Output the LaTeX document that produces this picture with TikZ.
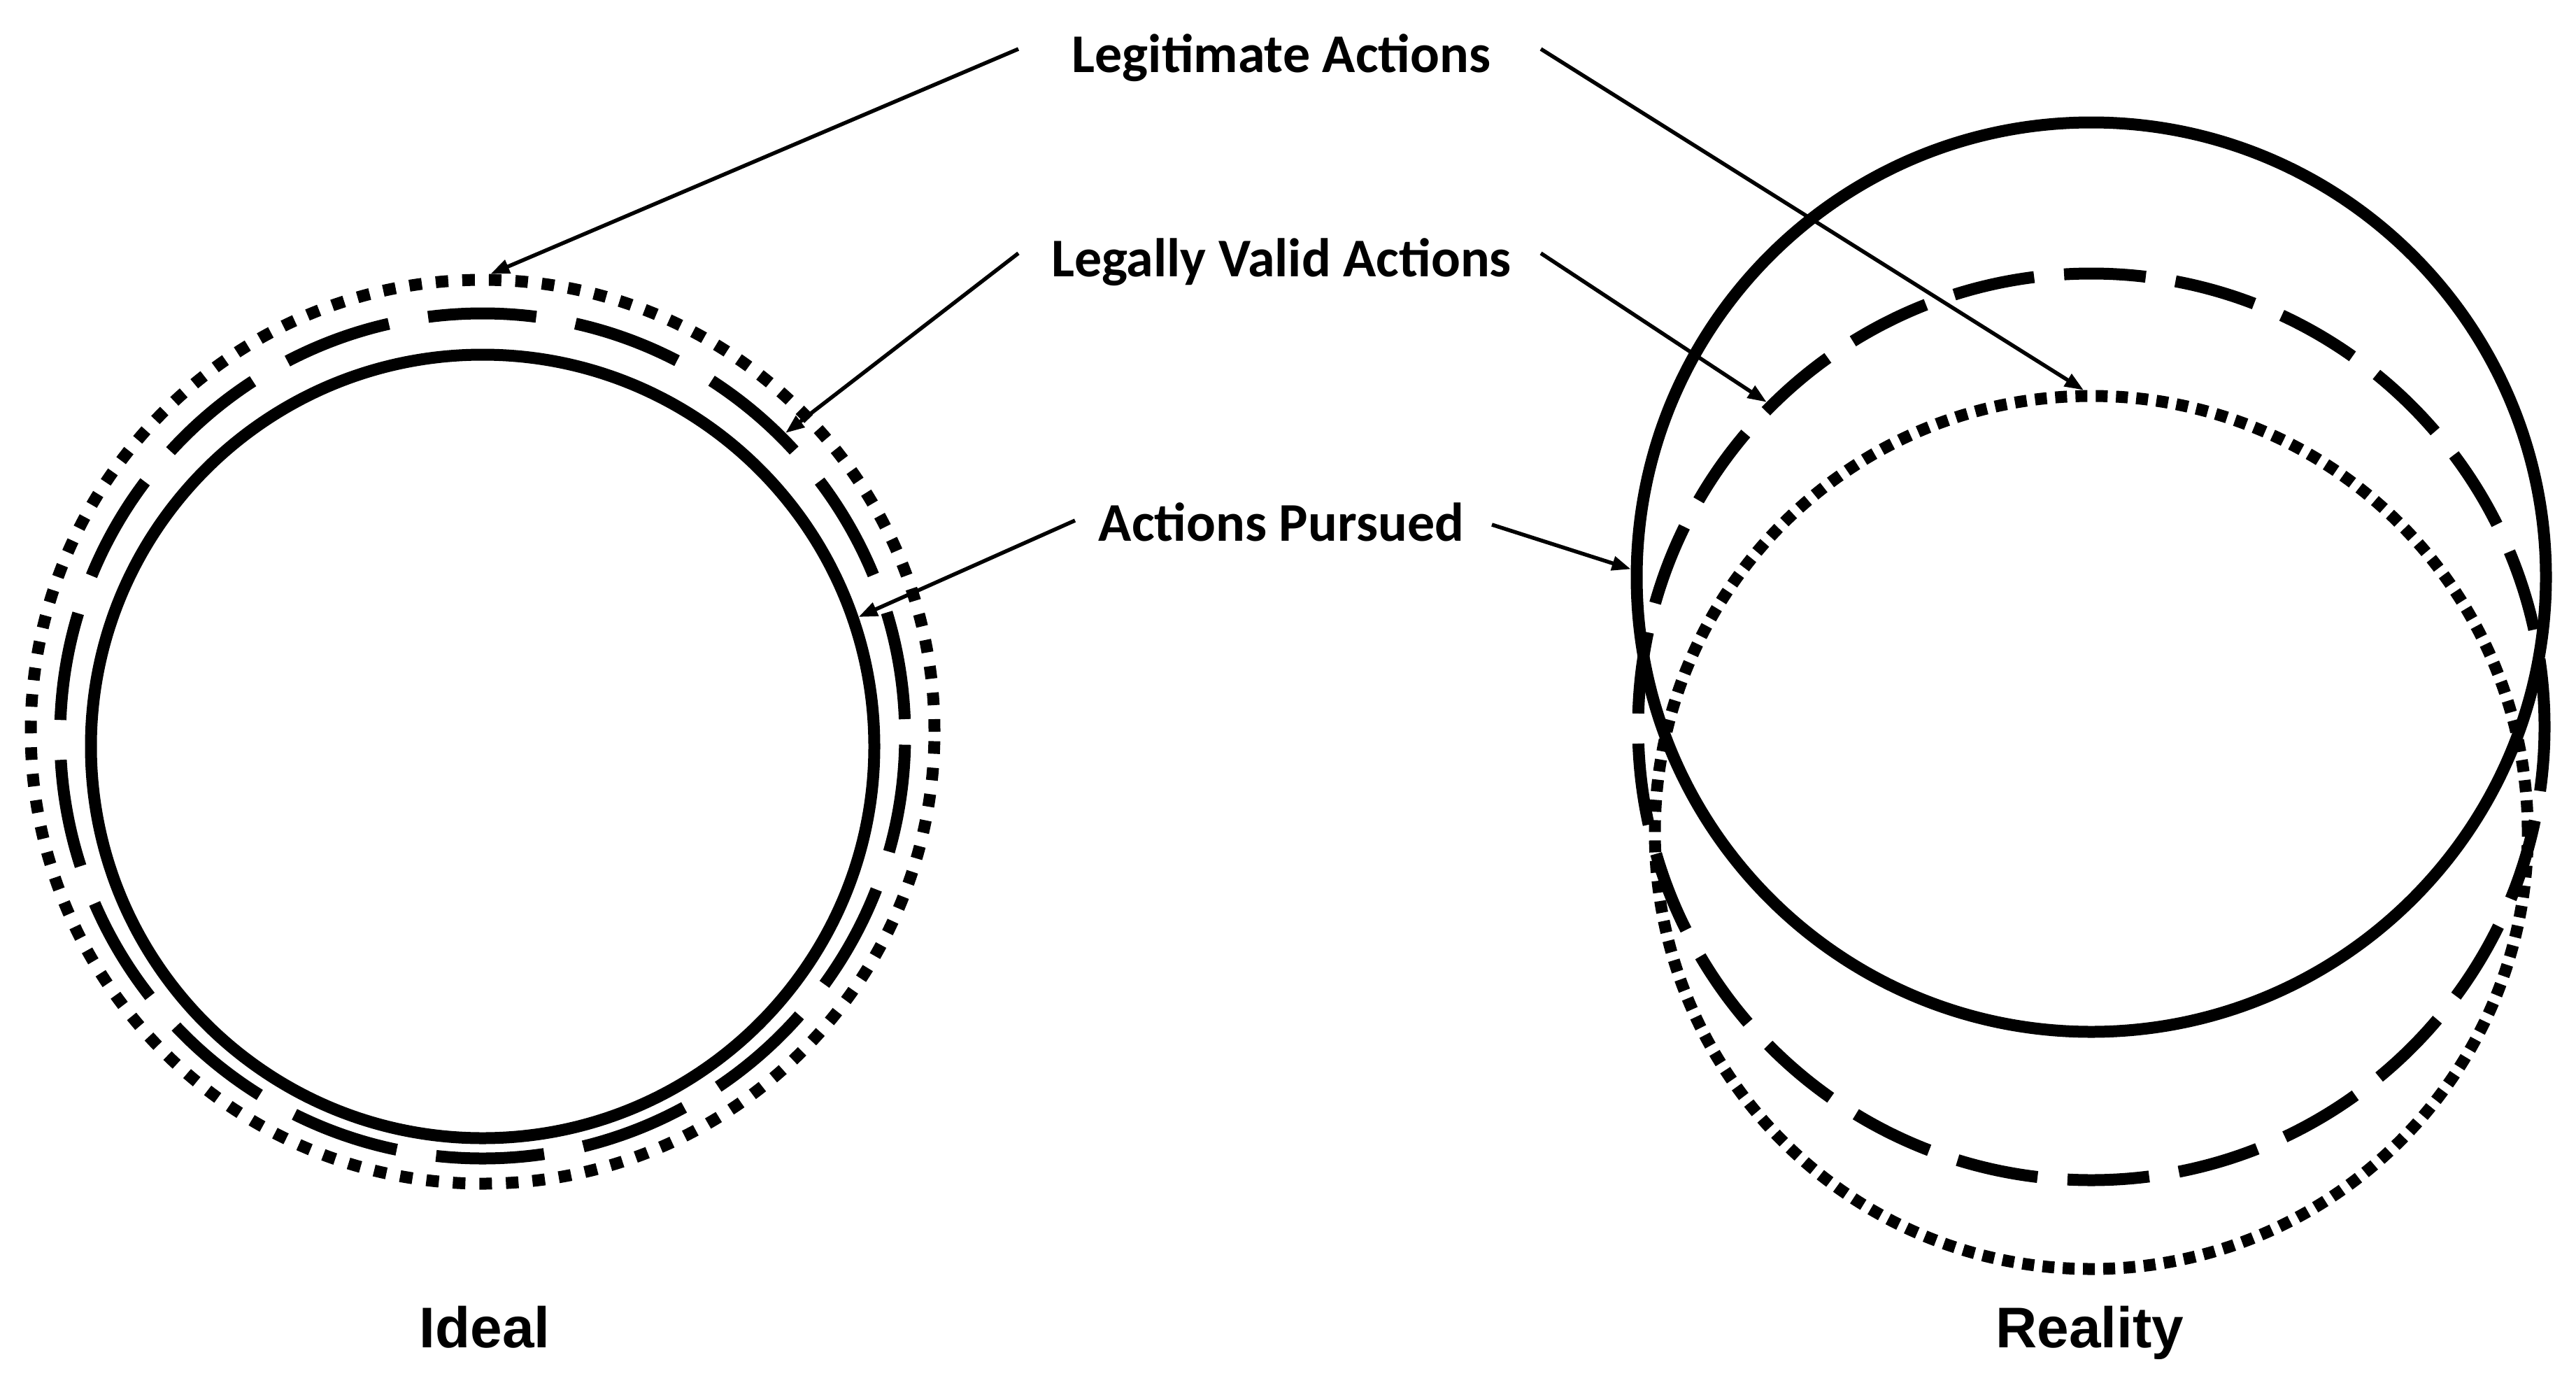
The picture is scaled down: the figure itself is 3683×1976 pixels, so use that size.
\documentclass[tikz,border=0pt]{standalone}
\usepackage{fontspec}
\setmainfont{Liberation Sans}
\newfontfamily\calfont{Carlito}
\usetikzlibrary{arrows.meta}
\begin{document}
\begin{tikzpicture}[x=1pt,y=-1pt,
  ring/.style={circle, draw, inner sep=0pt, line width=17pt, minimum size=#1},
  ldash/.style={dash pattern=on 155pt off 57pt, dash phase=188pt},
  rdash/.style={dash pattern=on 117pt off 43pt, dash phase=20pt},
  ldot/.style={dash pattern=on 18pt off 20pt},
  rdot/.style={dash pattern=on 17pt off 12pt},
  lab/.style={font=\calfont\bfseries\fontsize{78}{90}\selectfont, inner sep=0pt, anchor=base},
  capt/.style={font=\bfseries\fontsize{82}{95}\selectfont, inner sep=0pt, anchor=base},
  pointer/.style={line width=5.5pt, -{Triangle[length=27pt,width=20pt]}}
]
\useasboundingbox (0,0) rectangle (3683,1976);

% Ideal
\node[ring=1292pt, ldot] (idot) at (690,1046) {};
\node[ring=1208pt, ldash] (idash) at (690,1052) {};
\node[ring=1120pt] (isol) at (690,1067) {};

% Reality
\node[ring=1300pt] (rsol) at (2990,825) {};
\node[ring=1296pt, rdash] (rdsh) at (2990,1039) {};
\node[ring=1248pt, rdot] (rdt) at (2990,1190) {};

% labels
\node[lab] (legit) at (1832,103) {Legitimate Actions};
\node[lab] (valid) at (1832,395) {Legally Valid Actions};
\node[lab] (pursued) at (1832,773) {Actions Pursued};
\node[capt] (ideal) at (693,1926) {Ideal};
\node[capt] (reality) at (2988,1926) {Reality};

% connector starts
\coordinate (c1) at (1456,70);
\coordinate (c2) at (2203,70);
\coordinate (c3) at (1456,362);
\coordinate (c4) at (2203,362);
\coordinate (c5) at (1537,744);
\coordinate (c6) at (2133,750);

\draw[pointer] (c1) -- (idot.89);
\draw[pointer] (c2) -- (rdt.91);
\draw[pointer] (c3) -- (idash.45);
\draw[pointer] (c4) -- (rdsh.135);
\draw[pointer] (c5) -- (isol.19);
\draw[pointer] (c6) -- (rsol.179);
\end{tikzpicture}
\end{document}
